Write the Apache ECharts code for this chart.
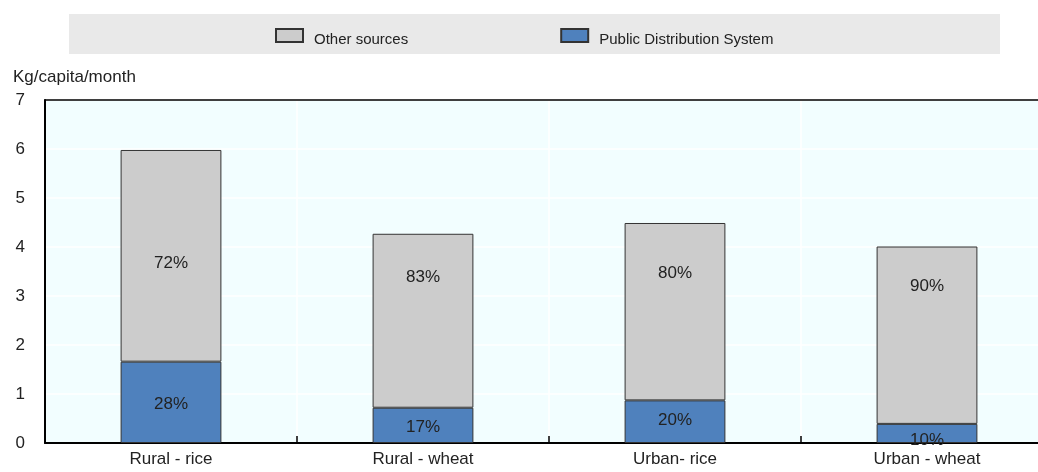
<!DOCTYPE html>
<html>
<head>
<meta charset="utf-8">
<script src="https://cdn.jsdelivr.net/npm/echarts@6/dist/echarts.min.js"></script>
<style>
html,body{margin:0;padding:0;background:#fff;}
#chart{width:1038px;height:472px;}
</style>
</head>
<body>
<div id="chart"></div>
<script>
// ---- data ----
var categories = ['Rural - rice', 'Rural - wheat', 'Urban- rice', 'Urban - wheat'];
var pdsValues = [1.66, 0.72, 0.87, 0.39];
var otherValues = [4.32, 3.55, 3.62, 3.62];
var pdsLabels = ['28%', '17%', '20%', '10%'];
var otherLabels = ['72%', '83%', '80%', '90%'];
var yTicks = [0, 1, 2, 3, 4, 5, 6, 7];

// ---- layout (label nudges, px) ----
var otherLabelNudge = [7, -43, -38, -49];
var pdsLabelNudge = [2, 2, -1, 7];

var FONT = '"Liberation Sans", Arial, sans-serif';
var chart = echarts.init(document.getElementById('chart'), null, {renderer: 'canvas'});

function makeData(vals, labels, nudges) {
  return vals.map(function (v, i) {
    return {
      value: v,
      label: {formatter: labels[i], offset: [0, nudges[i]]}
    };
  });
}

var option = {
  animation: false,
  backgroundColor: '#ffffff',
  textStyle: {fontFamily: FONT},
  title: {
    text: 'Kg/capita/month',
    left: 8,
    top: 64,
    textStyle: {fontFamily: FONT, fontSize: 17, fontWeight: 'normal', color: '#222'}
  },
  graphic: [{
    type: 'rect',
    z: -1,
    shape: {x: 69, y: 14, width: 931, height: 40},
    style: {fill: '#e9e9e9'},
    silent: true
  }],
  legend: {
    top: 23,
    left: 270,
    icon: 'rect',
    itemWidth: 27,
    itemHeight: 13,
    itemGap: 152,
    data: ['Other sources', 'Public Distribution System'],
    formatter: '{a|{name}}',
    textStyle: {
      fontFamily: FONT, fontSize: 15, color: '#222', padding: [0, 0, 0, 6],
      rich: {a: {fontFamily: FONT, fontSize: 15, color: '#222', lineHeight: 24, verticalAlign: 'bottom'}}
    }
  },
  grid: {left: 45, width: 1008, top: 100, bottom: 29, show: true, backgroundColor: '#f2feff', borderWidth: 0, outerBoundsMode: 'none', containLabel: false},
  xAxis: [{
    type: 'category',
    data: categories,
    position: 'bottom',
    axisLine: {lineStyle: {color: '#000', width: 2}},
    axisTick: {show: true, inside: true, length: 7, alignWithLabel: false, lineStyle: {color: '#000', width: 1.5}},
    splitLine: {show: true, lineStyle: {color: '#ffffff', width: 1.5}},
    axisLabel: {fontFamily: FONT, fontSize: 17, color: '#222', margin: 8}
  }, {
    type: 'category',
    data: categories,
    position: 'top',
    axisLine: {show: true, lineStyle: {color: '#000', width: 1.5}},
    axisTick: {show: false},
    axisLabel: {show: false},
    splitLine: {show: false}
  }],
  yAxis: {
    type: 'value',
    min: yTicks[0],
    max: yTicks[yTicks.length - 1],
    interval: 1,
    axisLine: {show: true, lineStyle: {color: '#000', width: 2}},
    axisTick: {show: false},
    splitLine: {show: true, lineStyle: {color: '#ffffff', width: 1.5}},
    axisLabel: {fontFamily: FONT, fontSize: 17, color: '#222', margin: 20, align: 'right'}
  },
  series: [{
    name: 'Public Distribution System',
    type: 'bar',
    stack: 'total',
    barWidth: '40%',
    data: makeData(pdsValues, pdsLabels, pdsLabelNudge),
    itemStyle: {color: '#4f81bd', borderColor: '#333', borderWidth: 1},
    label: {show: true, position: 'inside', fontFamily: FONT, fontSize: 17, color: '#222'}
  }, {
    name: 'Other sources',
    type: 'bar',
    stack: 'total',
    barWidth: '40%',
    data: makeData(otherValues, otherLabels, otherLabelNudge),
    itemStyle: {color: '#cccccc', borderColor: '#333', borderWidth: 1},
    label: {show: true, position: 'inside', fontFamily: FONT, fontSize: 17, color: '#222'}
  }]
};
chart.setOption(option);
</script>
</body>
</html>
